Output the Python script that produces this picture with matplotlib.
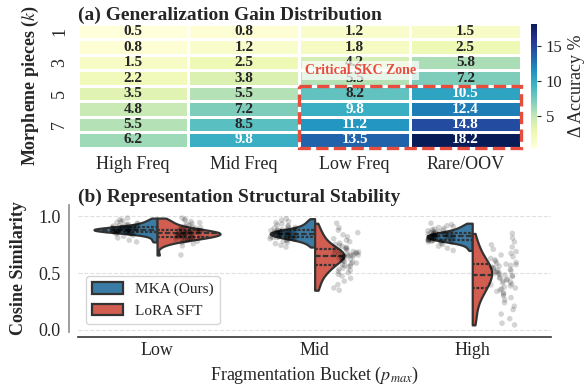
import numpy as np
import pandas as pd
import matplotlib
matplotlib.use("Agg")
import matplotlib.pyplot as plt
import seaborn as sns
from matplotlib.patches import Rectangle

# ---------------- data: panel (a) ----------------
freq_labels = ["High Freq", "Mid Freq", "Low Freq", "Rare/OOV"]
k_labels = [1, 2, 3, 4, 5, 6, 7, 8]
gain = [
    [0.5, 0.8, 1.2, 1.5],
    [0.8, 1.2, 1.8, 2.5],
    [1.5, 2.5, 4.2, 5.8],
    [2.2, 3.8, 5.5, 7.2],
    [3.5, 5.5, 8.2, 10.5],
    [4.8, 7.2, 9.8, 12.4],
    [5.5, 8.5, 11.2, 14.8],
    [6.2, 9.8, 13.5, 18.2],
]

# ---------------- data: panel (b) ----------------
buckets = ["Low", "Mid", "High"]
methods = ["MKA (Ours)", "LoRA SFT"]

low_mka = [0.775, 0.79, 0.81, 0.825, 0.835, 0.84, 0.845, 0.85, 0.852, 0.855,
           0.858, 0.86, 0.862, 0.863, 0.864, 0.865, 0.867, 0.869, 0.87, 0.872,
           0.874, 0.876, 0.877, 0.878, 0.879, 0.880, 0.881, 0.882, 0.883, 0.884,
           0.885, 0.886, 0.887, 0.888, 0.889, 0.890, 0.891, 0.892, 0.893, 0.895,
           0.897, 0.899, 0.901, 0.903, 0.905, 0.907, 0.909, 0.912, 0.915, 0.918,
           0.922, 0.926, 0.93, 0.935, 0.94, 0.947, 0.955, 0.963, 0.972, 0.985]
low_lora = [0.66, 0.74, 0.76, 0.77, 0.78, 0.785, 0.79, 0.795, 0.80, 0.803,
            0.806, 0.809, 0.811, 0.813, 0.814, 0.815, 0.818, 0.821, 0.824, 0.827,
            0.83, 0.833, 0.836, 0.839, 0.841, 0.843, 0.845, 0.847, 0.848, 0.849,
            0.85, 0.852, 0.854, 0.856, 0.858, 0.86, 0.862, 0.864, 0.866, 0.868,
            0.87, 0.873, 0.876, 0.879, 0.882, 0.885, 0.889, 0.893, 0.897, 0.902,
            0.907, 0.913, 0.92, 0.928, 0.936, 0.945, 0.955, 0.965, 0.975, 0.985]
mid_mka = [0.73, 0.745, 0.76, 0.77, 0.78, 0.788, 0.794, 0.799, 0.803, 0.806,
           0.809, 0.811, 0.813, 0.814, 0.815, 0.817, 0.82, 0.823, 0.826, 0.829,
           0.832, 0.834, 0.836, 0.838, 0.84, 0.842, 0.844, 0.845, 0.846, 0.847,
           0.848, 0.85, 0.852, 0.854, 0.856, 0.858, 0.86, 0.862, 0.864, 0.866,
           0.868, 0.87, 0.872, 0.874, 0.876, 0.877, 0.88, 0.884, 0.888, 0.893,
           0.898, 0.904, 0.91, 0.917, 0.925, 0.934, 0.944, 0.955, 0.967, 0.98]
mid_lora = [0.35, 0.37, 0.40, 0.43, 0.455, 0.475, 0.49, 0.505, 0.515, 0.525,
            0.535, 0.545, 0.555, 0.562, 0.569, 0.575, 0.582, 0.589, 0.596, 0.603,
            0.61, 0.616, 0.622, 0.628, 0.634, 0.639, 0.644, 0.648, 0.651, 0.653,
            0.655, 0.657, 0.66, 0.663, 0.666, 0.669, 0.673, 0.677, 0.681, 0.686,
            0.691, 0.697, 0.703, 0.709, 0.715, 0.72, 0.728, 0.736, 0.745, 0.755,
            0.765, 0.777, 0.79, 0.804, 0.82, 0.838, 0.857, 0.878, 0.90, 0.94]
high_mka = [0.70, 0.72, 0.738, 0.752, 0.762, 0.77, 0.775, 0.779, 0.782, 0.785,
            0.787, 0.789, 0.79, 0.791, 0.792, 0.793, 0.796, 0.799, 0.802, 0.805,
            0.808, 0.81, 0.812, 0.814, 0.816, 0.818, 0.819, 0.82, 0.821, 0.823,
            0.825, 0.827, 0.829, 0.831, 0.833, 0.835, 0.837, 0.839, 0.841, 0.843,
            0.845, 0.847, 0.849, 0.851, 0.853, 0.855, 0.858, 0.861, 0.865, 0.869,
            0.873, 0.878, 0.883, 0.889, 0.895, 0.902, 0.91, 0.918, 0.928, 0.94]
high_lora = [0.045, 0.06, 0.10, 0.14, 0.18, 0.21, 0.24, 0.265, 0.285, 0.30,
             0.315, 0.328, 0.34, 0.352, 0.362, 0.37, 0.379, 0.388, 0.397, 0.406,
             0.415, 0.423, 0.431, 0.439, 0.447, 0.455, 0.463, 0.471, 0.478, 0.484,
             0.49, 0.496, 0.502, 0.508, 0.514, 0.52, 0.527, 0.534, 0.541, 0.548,
             0.555, 0.562, 0.569, 0.575, 0.58, 0.585, 0.595, 0.605, 0.617, 0.63,
             0.645, 0.66, 0.675, 0.69, 0.71, 0.73, 0.75, 0.775, 0.81, 0.85]

# ---------------- style ----------------
sns.set_style("white")
plt.rcParams["font.family"] = ["Liberation Serif", "DejaVu Serif"]
plt.rcParams["mathtext.fontset"] = "stix"

blue = "#2980b9"
red = "#e74c3c"

fig = plt.figure(figsize=(5.87, 3.88), dpi=100)

# ---------------- panel (a) ----------------
ax1 = fig.add_axes([0.1324, 0.6193, 0.7547, 0.3188])
cax = fig.add_axes([0.9041, 0.6193, 0.0102, 0.3188])
df_gain = pd.DataFrame(gain, index=k_labels, columns=freq_labels)
sns.heatmap(df_gain, ax=ax1, cbar_ax=cax, cmap="YlGnBu", annot=True, fmt=".1f",
            annot_kws={"fontsize": 11, "fontweight": "bold"},
            linewidths=1, linecolor="white", yticklabels=2)
ax1.tick_params(axis="y", rotation=90, length=0, labelsize=13, pad=7)
for t in ax1.get_yticklabels():
    t.set_va("center")
ax1.tick_params(axis="x", rotation=0, length=0, labelsize=13, pad=6)
ax1.set_ylabel("Morpheme pieces ($k$)", fontsize=13, fontweight="bold", labelpad=7)
ax1.set_xlabel("")
ax1.set_title("(a) Generalization Gain Distribution", loc="left",
              fontsize=14, fontweight="bold", pad=3)
cax.tick_params(labelsize=12, length=3)
cax.set_ylabel("Δ Accuracy %", fontsize=13)
cax.set_yticks([5, 10, 15])

ax1.add_patch(Rectangle((2, 4), 2, 4, fill=False, edgecolor=red, lw=2.4,
                        linestyle="--", clip_on=False, zorder=5))
ax1.text(2.05, 3.0, "Critical SKC Zone", color=red, fontsize=10, fontweight="bold",
         ha="left", va="center", zorder=6,
         bbox=dict(boxstyle="square,pad=0.2", facecolor="white", alpha=0.7,
                   edgecolor="none"))

# ---------------- panel (b) ----------------
groups = [("Low", "MKA (Ours)", low_mka), ("Low", "LoRA SFT", low_lora),
          ("Mid", "MKA (Ours)", mid_mka), ("Mid", "LoRA SFT", mid_lora),
          ("High", "MKA (Ours)", high_mka), ("High", "LoRA SFT", high_lora)]
recs = []
for b, m, vals in groups:
    for v in vals:
        recs.append((b, m, v))
df = pd.DataFrame(recs, columns=["Bucket", "Method", "Cosine"])

ax2 = fig.add_axes([0.1333, 0.1451, 0.8054, 0.3265])
ax2.yaxis.grid(True, linestyle="--", color="0.88", lw=0.8)
ax2.set_axisbelow(True)
sns.violinplot(data=df, x="Bucket", y="Cosine", hue="Method", order=buckets,
               hue_order=methods, split=True, inner="quart", cut=0,
               palette={methods[0]: blue, methods[1]: red},
               linewidth=1.6, linecolor="#333333", density_norm="area",
               width=0.8, ax=ax2)
sns.stripplot(data=df, x="Bucket", y="Cosine", hue="Method", order=buckets,
              hue_order=methods, dodge=True, jitter=0.17,
              palette={methods[0]: "black", methods[1]: "black"},
              alpha=0.17, size=4, legend=False, ax=ax2)
sns.move_legend(ax2, "lower left", title=None, fontsize=11, frameon=True,
                handleheight=0.8)

ax2.set_ylim(-0.015, 1.1)
ax2.set_xlim(-0.5, 2.5)
ax2.set_yticks([0.0, 0.5, 1.0])
ax2.set_yticklabels(["0.0", "0.5", "1.0"])
ax2.tick_params(axis="both", labelsize=13, length=0)
ax2.tick_params(axis="y", pad=6)
ax2.tick_params(axis="x", pad=4)
for s in ["top", "right"]:
    ax2.spines[s].set_visible(False)
ax2.spines["left"].set_position(("outward", 6.5))
ax2.spines["bottom"].set_position(("outward", 3.6))
ax2.spines["left"].set_color("0.55")
ax2.spines["bottom"].set_color("0.2")
ax2.spines["left"].set_linewidth(1.2)
ax2.spines["bottom"].set_linewidth(1.2)
ax2.set_xlabel("Fragmentation Bucket ($p_{max}$)", fontsize=13, labelpad=4)
ax2.set_ylabel("Cosine Similarity", fontsize=13, fontweight="bold", labelpad=8)
ax2.set_title("(b) Representation Structural Stability", loc="left",
              fontsize=14, fontweight="bold", pad=2)

fig.savefig("out.png", dpi=100)
